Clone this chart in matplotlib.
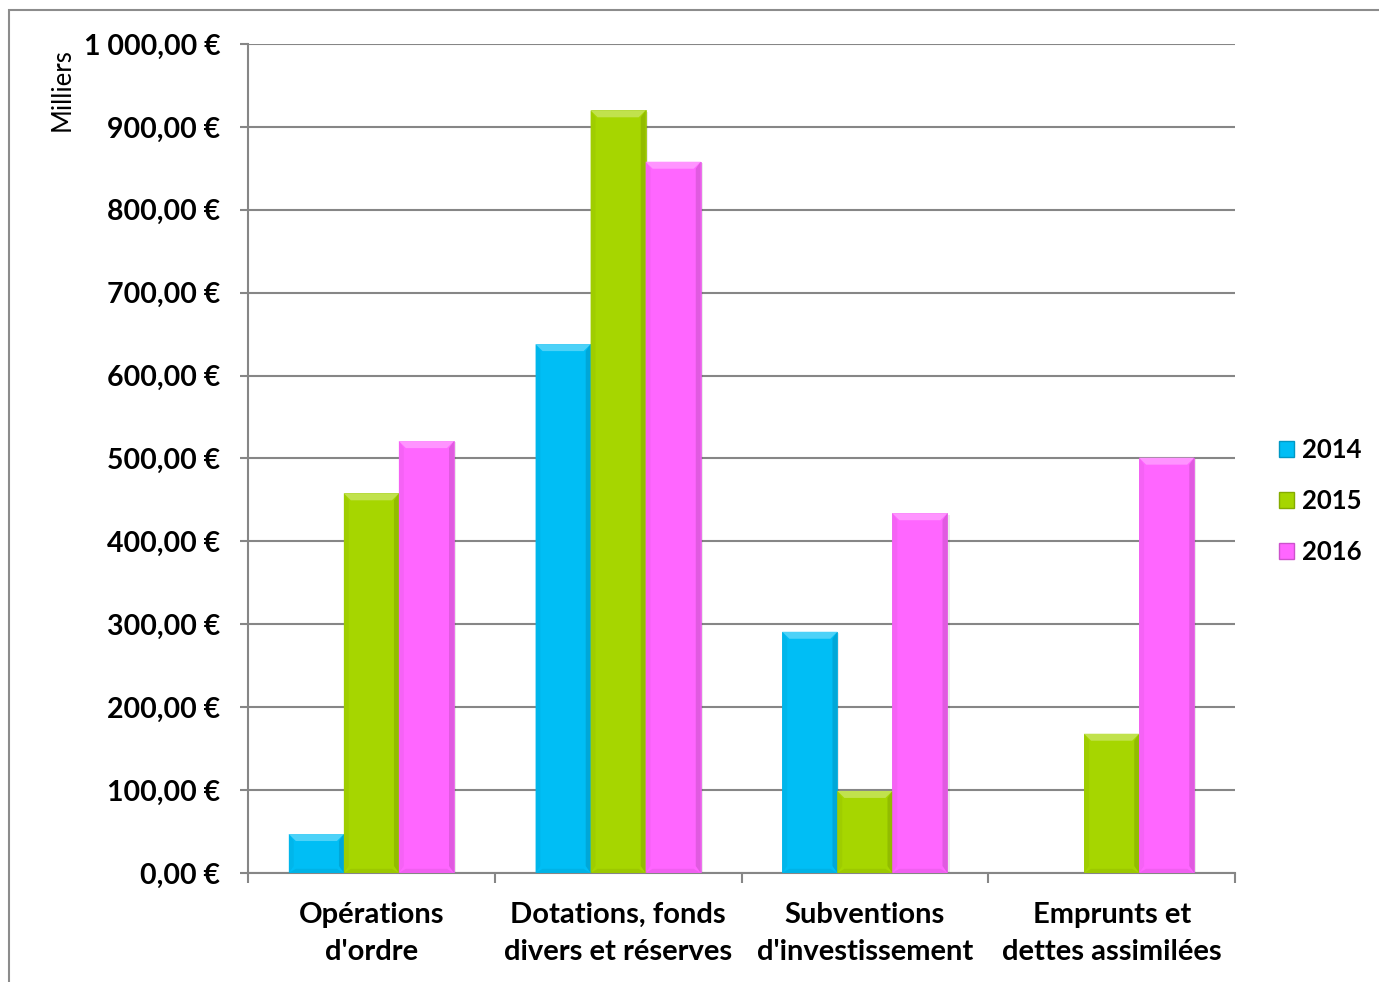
import matplotlib
matplotlib.use("Agg")
import matplotlib.pyplot as plt
from matplotlib.patches import Polygon, Rectangle, Patch
from matplotlib.ticker import FuncFormatter, FixedLocator
import numpy as np

# Data (thousands of euros)
categories = ["Opérations\nd'ordre", "Dotations, fonds\ndivers et réserves",
              "Subventions\nd'investissement", "Emprunts et\ndettes assimilées"]
years = ["2014", "2015", "2016"]
values_2014 = [47, 638, 291, 0]
values_2015 = [458, 920, 99, 168]
values_2016 = [521, 858, 434, 501]
series = [values_2014, values_2015, values_2016]
colors = ["#00BEF5", "#A6D600", "#FF66FF"]
y_ticks = list(range(0, 1001, 100))

plt.rcParams['font.family'] = ['Lato', 'DejaVu Sans']

W, H = 1379, 982
fig = plt.figure(figsize=(W / 100, H / 100), dpi=100)
ax = fig.add_axes([248 / W, 1 - 873 / H, (1235 - 248) / W, (873 - 44) / H])

x = np.arange(len(categories))
bw = 0.223
offsets = [-bw, 0, bw]


def mix(c, other, t):
    c = np.array(matplotlib.colors.to_rgb(c))
    o = np.array(matplotlib.colors.to_rgb(other))
    return tuple(c * (1 - t) + o * t)


ax.set_xlim(-0.5, len(categories) - 0.5)
ax.set_ylim(0, 1000)

containers = []
for vals, off, col in zip(series, offsets, colors):
    bars = ax.bar(x + off, vals, width=bw, color=col, edgecolor=mix(col, "black", 0.10),
                  linewidth=0.5, zorder=3)
    containers.append((bars, col))

# Bevel shading on each bar, derived from the bar geometry
fig.canvas.draw()
px_x = ax.transData.transform((1, 0))[0] - ax.transData.transform((0, 0))[0]
px_y = ax.transData.transform((0, 100))[1] - ax.transData.transform((0, 0))[1]
bev = 7
bx = bev / px_x
by = bev * 100 / px_y
for bars, col in containers:
    for r in bars:
        x0, w, h = r.get_x(), r.get_width(), r.get_height()
        if h <= 0:
            continue
        b = min(by, h / 3)
        # soft drop shadow
        ax.add_patch(Rectangle((x0 + bx * 0.3, -b * 0.2), w, h, facecolor=(0, 0, 0, 0.08),
                               edgecolor="none", zorder=2.5))
        top = Polygon([(x0, h), (x0 + w, h), (x0 + w - bx, h - b), (x0 + bx, h - b)],
                      closed=True, facecolor=mix(col, "white", 0.30), edgecolor="none", zorder=4)
        left = Polygon([(x0, 0), (x0, h), (x0 + bx * 0.7, h - b), (x0 + bx * 0.7, b)],
                       closed=True, facecolor=mix(col, "black", 0.04), edgecolor="none", zorder=4)
        right = Polygon([(x0 + w, 0), (x0 + w, h), (x0 + w - bx * 0.7, h - b), (x0 + w - bx * 0.7, b)],
                        closed=True, facecolor=mix(col, "black", 0.12), edgecolor="none", zorder=4)
        bottom = Polygon([(x0, 0), (x0 + w, 0), (x0 + w - bx, b * 0.6), (x0 + bx, b * 0.6)],
                         closed=True, facecolor=mix(col, "black", 0.06), edgecolor="none", zorder=4)
        for p in (left, right, bottom, top):
            ax.add_patch(p)

# Grid and axes styling
grid_col = "#868686"
ax.set_yticks(y_ticks)
ax.yaxis.grid(True, color=grid_col, linewidth=1.5, zorder=0)
ax.set_axisbelow(True)
for s in ("top", "right"):
    ax.spines[s].set_visible(False)
for s in ("left", "bottom"):
    ax.spines[s].set_color(grid_col)
    ax.spines[s].set_linewidth(1.5)


def euro(v, pos):
    s = f"{v:,.2f}".replace(",", " ").replace(".", ",")
    return s + " €"


ax.yaxis.set_major_formatter(FuncFormatter(euro))
ax.tick_params(axis="y", length=6, width=1.5, color=grid_col, pad=14, labelsize=20.5)
for t in ax.get_yticklabels():
    t.set_fontweight("bold")

ax.xaxis.set_major_locator(FixedLocator(np.arange(-0.5, len(categories), 1.0)))
ax.xaxis.set_major_formatter(FuncFormatter(lambda v, p: ""))
ax.xaxis.set_minor_locator(FixedLocator(x))
ax.set_xticklabels(categories, minor=True, fontsize=21, fontweight="bold")
ax.tick_params(axis="x", which="major", length=7, width=1.5, color=grid_col, direction="out")
ax.tick_params(axis="x", which="minor", length=0, pad=21)
for t in ax.get_xticklabels(minor=True):
    t.set_linespacing(1.5)

fig.text(62 / W, 1 - 90 / H, "Milliers", rotation=90, ha="center", va="center", fontsize=18.5)

# Legend
handles = [Patch(facecolor=c, edgecolor=mix(c, "black", 0.2), label=y) for c, y in zip(colors, years)]
leg = fig.legend(handles=handles, loc="center left", bbox_to_anchor=(1279 / W, 1 - 501 / H),
                 frameon=False, prop={"size": 18.5, "weight": "bold"}, handlelength=0.6,
                 handleheight=0.6, handletextpad=0.3, labelspacing=1.05, borderpad=0,
                 borderaxespad=0)

# Chart border
fig.patches.append(Rectangle((9 / W, -0.1), 1.2, 1 - 10 / H + 0.1, transform=fig.transFigure,
                             fill=False, edgecolor="#8c8c8c", linewidth=1.5))

fig.savefig("out.png", dpi=100)
